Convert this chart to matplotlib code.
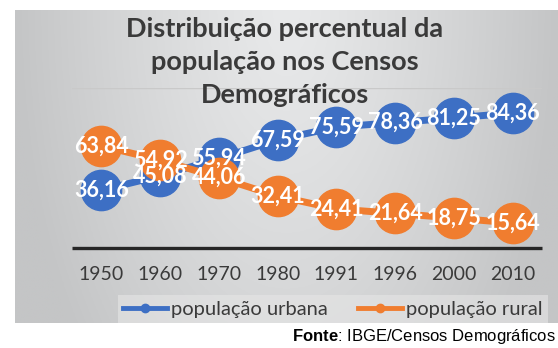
import numpy as np
import matplotlib.pyplot as plt
from matplotlib.lines import Line2D

# Census years and share of population (%)
anos = ['1950', '1960', '1970', '1980', '1991', '1996', '2000', '2010']
urbana = [36.16, 45.08, 55.94, 67.59, 75.59, 78.36, 81.25, 84.36]
rural = [63.84, 54.92, 44.06, 32.41, 24.41, 21.64, 18.75, 15.64]

azul = '#3d6fc4'
laranja = '#f07d2f'
cinza_txt = '#3a3a3a'

plt.rcParams['font.family'] = ['Lato', 'DejaVu Sans']
plt.rcParams['mathtext.fontset'] = 'custom'
plt.rcParams['mathtext.bf'] = 'Liberation Sans:bold'

fig = plt.figure(figsize=(5.58, 3.48), dpi=100)
fig.patch.set_facecolor('white')

# grey gradient panel behind the chart
bg = fig.add_axes([15 / 558, 25 / 348, 543 / 558, 313 / 348], zorder=-2)
gx, gy = np.meshgrid(np.linspace(-1, 1, 300), np.linspace(0, 1, 200))
dist = np.sqrt(gx ** 2 + (gy * 0.6) ** 2)
shade = 232 - 36 * np.clip(dist, 0, 1) ** 1.2
img = np.dstack([shade, shade + 1, shade + 2]) / 255.0
bg.imshow(np.clip(img, 0, 1), aspect='auto', extent=[0, 1, 0, 1], origin='upper')
bg.axis('off')

ax = fig.add_axes([72 / 558, 100 / 348, 470 / 558, 160 / 348])
ax.set_facecolor('none')
x = np.arange(len(anos))

ax.axhline(100, color='#c9c9c9', lw=1, zorder=1)

ax.plot(x, urbana, color=azul, lw=5, marker='o', markersize=29, zorder=3,
        solid_capstyle='round')
ax.plot(x, rural, color=laranja, lw=5, marker='o', markersize=29, zorder=4,
        solid_capstyle='round')

for serie in (urbana, rural):
    for xi, v in zip(x, serie):
        ax.text(xi, v, f'{v:.2f}'.replace('.', ','), color='white',
                fontsize=15.5, fontweight='bold', ha='center', va='center',
                zorder=6)

ax.set_xlim(-0.5, 7.5)
ax.set_ylim(0, 100)
ax.set_xticks(x)
ax.set_xticklabels(anos, fontsize=14, color=cinza_txt)
ax.set_yticks([])
ax.tick_params(axis='x', length=0, pad=13)
for s in ('top', 'left', 'right'):
    ax.spines[s].set_visible(False)
ax.spines['bottom'].set_color('#262626')
ax.spines['bottom'].set_linewidth(2.4)
ax.spines['bottom'].set_capstyle('butt')

# title, three centred lines
fig.text(285 / 558, 1 - 62 / 348,
         'Distribuição percentual da\npopulação nos Censos\nDemográficos',
         ha='center', va='center', fontsize=19.5, fontweight='bold',
         color=cinza_txt, linespacing=1.45)

handles = [
    Line2D([], [], color=azul, lw=3.5, marker='o', markersize=6),
    Line2D([], [], color=laranja, lw=3.5, marker='o', markersize=6),
]
leg = fig.legend(handles, ['população urbana', 'população rural'],
                 loc='center', bbox_to_anchor=(333 / 558, 1 - 309 / 348),
                 ncol=2, fontsize=14.5, frameon=True, handlelength=2.2,
                 handletextpad=0.2, columnspacing=1.5, borderpad=0.25,
                 fancybox=False)
leg.get_frame().set_facecolor('#e6e6e6')
leg.get_frame().set_alpha(0.6)
leg.get_frame().set_edgecolor('none')
for t in leg.get_texts():
    t.set_color(cinza_txt)

# source note under the panel
fig.text(556 / 558, 1 - 337 / 348, r'$\bf{Fonte}$: IBGE/Censos Demográficos',
         ha='right', va='center', fontsize=12, family='Liberation Sans',
         color='black')

fig.savefig('out.png', dpi=100)
